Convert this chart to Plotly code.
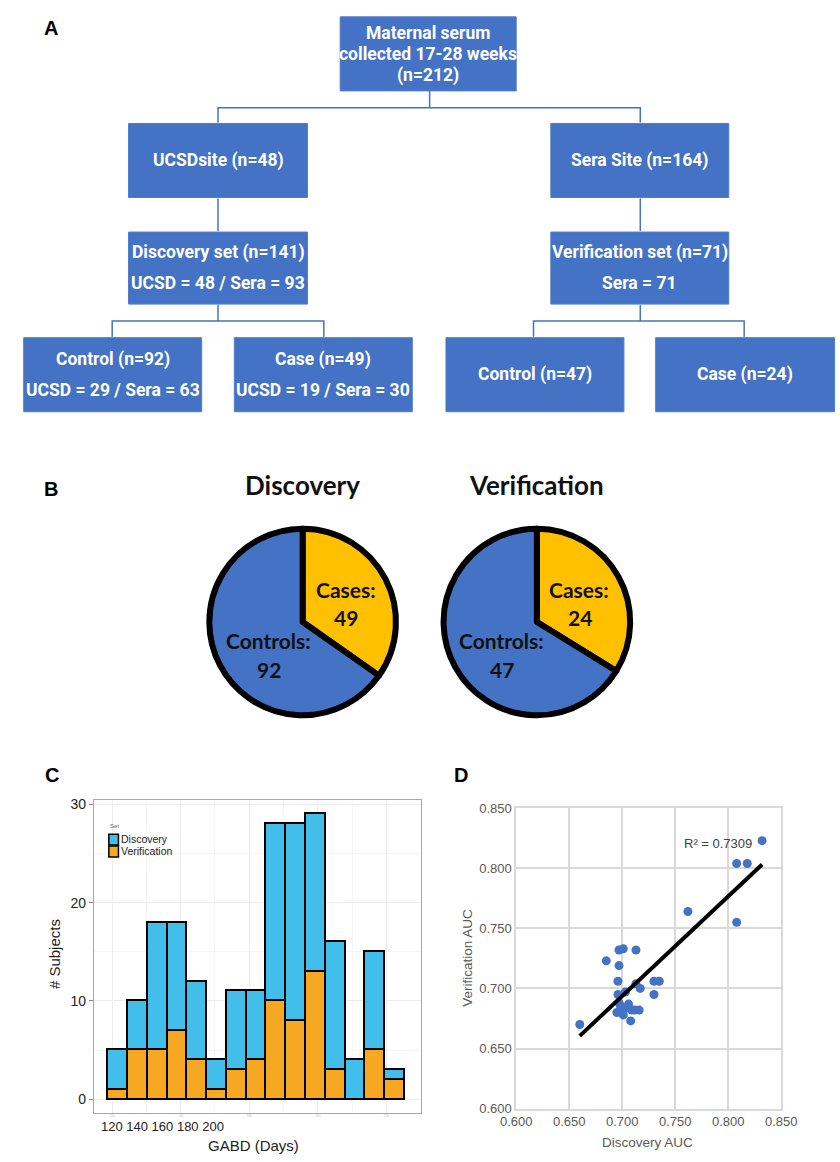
import plotly.graph_objects as go

W, H = 840, 1162

# ---------------- DATA ----------------
# Panel A: flowchart node texts
node_root = ["Maternal serum", "collected 17-28 weeks", "(n=212)"]
node_ucsd = ["UCSDsite (n=48)"]
node_sera = ["Sera Site (n=164)"]
node_disc = ["Discovery set (n=141)", "UCSD = 48 / Sera = 93"]
node_verif = ["Verification set (n=71)", "Sera = 71"]
node_ctrl_d = ["Control (n=92)", "UCSD = 29 / Sera = 63"]
node_case_d = ["Case (n=49)", "UCSD = 19 / Sera = 30"]
node_ctrl_v = ["Control (n=47)"]
node_case_v = ["Case (n=24)"]

# Panel B: pies
pie_labels = ["Cases", "Controls"]
discovery_counts = [49, 92]
verification_counts = [24, 47]

# Panel C: histogram of GABD (days)
gabd_bin_centers = [121.68, 127.46, 133.23, 139.01, 144.78, 150.56, 156.33, 162.11,
                    167.88, 173.66, 179.43, 185.21, 190.98, 196.76, 202.53]
gabd_bin_width = 5.775
hist_discovery = [4, 5, 13, 11, 8, 3, 8, 7, 18, 20, 16, 13, 4, 10, 1]
hist_verification = [1, 5, 5, 7, 4, 1, 3, 4, 10, 8, 13, 3, 0, 5, 2]
gabd_ticks = [120, 140, 160, 180, 200]
subject_ticks = [0, 10, 20, 30]
legend_title = "Set"
legend_names = ["Discovery", "Verification"]

# Panel D: AUC scatter
discovery_auc = [0.832, 0.808, 0.818, 0.762, 0.808, 0.697, 0.701, 0.713, 0.685, 0.697,
                 0.696, 0.696, 0.703, 0.713, 0.717, 0.730, 0.735, 0.730, 0.695, 0.699,
                 0.706, 0.701, 0.709, 0.716, 0.708, 0.660, 0.712, 0.697, 0.6985, 0.7035]
verification_auc = [0.823, 0.804, 0.804, 0.764, 0.755, 0.732, 0.733, 0.732, 0.723, 0.719,
                    0.706, 0.695, 0.697, 0.704, 0.700, 0.706, 0.706, 0.695, 0.680, 0.684,
                    0.687, 0.678, 0.682, 0.682, 0.673, 0.670, 0.682, 0.688, 0.6855, 0.6835]
fit_slope = 0.829
fit_intercept = 0.1134
r_squared = 0.7309
auc_ticks = [0.600, 0.650, 0.700, 0.750, 0.800, 0.850]

# ---------------- STYLE / LAYOUT HELPERS ----------------
BLUE = "#4472C4"
YELLOW = "#FFC000"
CYAN = "#41BEEA"
ORANGE = "#F7A823"
FLOW_FONT = "Roboto, Liberation Sans, sans-serif"
PIE_FONT = "Lato, Calibri, Carlito, sans-serif"
AR = "Liberation Sans, Arial, sans-serif"


def fx(x):
    return x / W


def fy(y):
    return 1 - y / H


fig = go.Figure()
shapes = []
annotations = []

# ---------------- PANEL A: flowchart ----------------
boxes = [
    (node_root, (337, 10, 520, 85), 21.5),
    (node_ucsd, (117, 118, 303, 193), 31),
    (node_sera, (556, 118, 741, 193), 31),
    (node_disc, (117, 228, 303, 301), 31),
    (node_verif, (556, 228, 741, 301), 31),
    (node_ctrl_d, (8, 335, 193, 410), 31),
    (node_case_d, (227, 335, 412, 410), 31),
    (node_ctrl_v, (447, 335, 632, 410), 31),
    (node_case_v, (665, 335, 851, 410), 31),
]
for lines, (x0, y0, x1, y1), spacing in boxes:
    shapes.append(dict(type="rect", xref="paper", yref="paper",
                       x0=fx(x0), x1=fx(x1), y0=fy(y1), y1=fy(y0),
                       fillcolor=BLUE, line=dict(color="#4F7CCB", width=1), layer="below"))
    cx = (x0 + x1) / 2
    cy = (y0 + y1) / 2
    n = len(lines)
    for i, t in enumerate(lines):
        ly = cy + (i - (n - 1) / 2) * spacing
        annotations.append(dict(text=f"<b>{t}</b>", x=fx(cx), y=fy(ly), xref="paper", yref="paper",
                                showarrow=False, xanchor="center", yanchor="middle",
                                font=dict(family=FLOW_FONT, size=17.5, color="white")))

connectors = [
    [(430, 85), (430, 102)],
    [(210, 117), (210, 102), (649, 102), (649, 117)],
    [(210, 194), (210, 227)],
    [(649, 194), (649, 227)],
    [(210, 302), (210, 318)],
    [(100, 334), (100, 318), (320, 318), (320, 334)],
    [(649, 302), (649, 318)],
    [(538, 334), (538, 318), (757, 318), (757, 334)],
]
for pts in connectors:
    path = "M " + " L ".join(f"{fx(x):.5f},{fy(y):.5f}" for x, y in pts)
    shapes.append(dict(type="path", xref="paper", yref="paper", path=path,
                       line=dict(color=BLUE, width=1.5)))

# ---------------- PANEL B: pies ----------------
pie_specs = [
    ("Discovery", discovery_counts, 298, [(45, -33), (45, -5), (-36, 19), (-35, 48)]),
    ("Verification", verification_counts, 541.5, [(44, -33), (45, -5), (-37, 19), (-36, 48)]),
]
PIE_CY, PIE_R = 623, 97
for title, vals, cx, offs in pie_specs:
    fig.add_trace(go.Pie(
        labels=pie_labels, values=vals, sort=False, direction="clockwise", rotation=0,
        marker=dict(colors=[YELLOW, BLUE], line=dict(color="black", width=6)),
        textinfo="none", hoverinfo="label+value", showlegend=False,
        domain=dict(x=[fx(cx - PIE_R), fx(cx + PIE_R)], y=[fy(PIE_CY + PIE_R), fy(PIE_CY - PIE_R)]),
    ))
    annotations.append(dict(text=f"<b>{title}</b>", x=fx(cx), y=fy(484), xref="paper", yref="paper",
                            showarrow=False, xanchor="center", yanchor="middle",
                            font=dict(family=PIE_FONT, size=26, color="#111")))
    texts = [f"{pie_labels[0]}:", str(vals[0]), f"{pie_labels[1]}:", str(vals[1])]
    for (dx, dy), t in zip(offs, texts):
        annotations.append(dict(text=f"<b>{t}</b>", x=fx(cx + dx), y=fy(PIE_CY + dy),
                                xref="paper", yref="paper", showarrow=False,
                                xanchor="center", yanchor="middle",
                                font=dict(family=PIE_FONT, size=21, color="#111")))

# ---------------- PANEL C: stacked histogram ----------------
fig.add_trace(go.Bar(x=gabd_bin_centers, y=hist_verification, width=gabd_bin_width,
                     name=legend_names[1], marker=dict(color=ORANGE, line=dict(color="black", width=1.5)),
                     showlegend=False, xaxis="x", yaxis="y"))
fig.add_trace(go.Bar(x=gabd_bin_centers, y=hist_discovery, width=gabd_bin_width,
                     name=legend_names[0], marker=dict(color=CYAN, line=dict(color="black", width=1.5)),
                     showlegend=False, xaxis="x", yaxis="y"))

# inset legend (ggplot style)
annotations.append(dict(text=legend_title, x=fx(96), y=fy(830), xanchor="left",
                        font=dict(family=AR, size=6, color="#666")))
for i, (name, col) in enumerate(zip(legend_names, [CYAN, ORANGE])):
    y0 = 838 + i * 12
    shapes.append(dict(type="rect", xref="paper", yref="paper",
                       x0=fx(96.5), x1=fx(106.5), y0=fy(y0 + 11), y1=fy(y0),
                       fillcolor=col, line=dict(color="black", width=1.5)))
    annotations.append(dict(text=name, x=fx(107.5), y=fy(y0 + 5), xanchor="left",
                            font=dict(family=AR, size=10.5, color="#222")))

# ---------------- PANEL D: scatter ----------------
fig.add_trace(go.Scatter(x=discovery_auc, y=verification_auc, mode="markers",
                         marker=dict(color=BLUE, size=9), showlegend=False,
                         xaxis="x2", yaxis="y2"))
fit_x = [min(discovery_auc), max(discovery_auc)]
fit_y = [fit_slope * v + fit_intercept for v in fit_x]
fig.add_trace(go.Scatter(x=fit_x, y=fit_y, mode="lines", line=dict(color="black", width=4),
                         showlegend=False, xaxis="x2", yaxis="y2"))

# texts: panel letters, axis titles
for letter, x, y in [("A", 36, 21), ("B", 36, 488), ("C", 37, 778), ("D", 463, 778)]:
    annotations.append(dict(text=f"<b>{letter}</b>", x=fx(x), y=fy(y), xref="paper", yref="paper",
                            showarrow=False, xanchor="center", yanchor="middle",
                            font=dict(family=AR, size=20, color="black")))

annotations += [
    dict(text="# Subjects", x=fx(40), y=fy(959), textangle=-90,
         font=dict(family=AR, size=15, color="#222")),
    dict(text="GABD (Days)", x=fx(247), y=fy(1153), font=dict(family=AR, size=15, color="#222")),
    dict(text=" ".join(str(t) for t in gabd_ticks), x=fx(152), y=fy(1134),
         font=dict(family=AR, size=13, color="#222")),
    dict(text="Verification AUC", x=fx(469), y=fy(963), textangle=-90,
         font=dict(family=AR, size=13.5, color="#595959")),
    dict(text="Discovery AUC", x=fx(657), y=fy(1150), font=dict(family=AR, size=13.5, color="#595959")),
    dict(text=f"R² = {r_squared}", x=0.7904, y=0.821, xref="x2", yref="y2",
         font=dict(family=AR, size=13, color="#404040")),
]
for a in annotations:
    a.setdefault("xref", "paper")
    a.setdefault("yref", "paper")
    a.setdefault("showarrow", False)
    a.setdefault("xanchor", "center")
    a.setdefault("yanchor", "middle")

fig.update_layout(
    width=W, height=H, autosize=False,
    margin=dict(l=0, r=0, t=0, b=0, pad=0),
    paper_bgcolor="white", plot_bgcolor="white",
    barmode="stack", bargap=0, showlegend=False,
    shapes=shapes, annotations=annotations,
    font=dict(family=AR),
    xaxis=dict(domain=[fx(81), fx(421)], range=[114.67, 210.1], anchor="y",
               tickvals=gabd_ticks, ticktext=[str(t) for t in gabd_ticks],
               tickfont=dict(size=3, color="#BBBBBB"), ticks="",
               showgrid=True, gridcolor="#EDEDED", gridwidth=1,
               minor=dict(dtick=10, tick0=110, showgrid=True, gridcolor="#F5F5F5"),
               showline=True, mirror=True, linecolor="#A8A8A8", linewidth=1,
               zeroline=False, fixedrange=True),
    yaxis=dict(domain=[fy(1120), fy(803)], range=[-1.35, 30.47], anchor="x",
               tickvals=subject_ticks, tickfont=dict(family=AR, size=14, color="#222"),
               ticks="outside", ticklen=4, tickcolor="#888",
               showgrid=True, gridcolor="#EDEDED", gridwidth=1,
               minor=dict(dtick=5, tick0=5, showgrid=True, gridcolor="#F5F5F5"),
               showline=True, mirror=True, linecolor="#A8A8A8", linewidth=1,
               zeroline=False, fixedrange=True),
    xaxis2=dict(domain=[fx(520), fx(795.5)], range=[0.6, 0.85], anchor="y2",
                tickvals=auc_ticks, tickformat=".3f",
                tickfont=dict(family=AR, size=13, color="#595959"),
                showgrid=True, gridcolor="#D9D9D9", gridwidth=1.5,
                showline=True, mirror=True, linecolor="#D9D9D9", linewidth=1.5,
                zeroline=False, ticks="", fixedrange=True),
    yaxis2=dict(domain=[fy(1116), fy(811.7)], range=[0.6, 0.85], anchor="x2",
                tickvals=auc_ticks, tickformat=".3f",
                tickfont=dict(family=AR, size=13, color="#595959"),
                showgrid=True, gridcolor="#D9D9D9", gridwidth=1.5,
                showline=True, mirror=True, linecolor="#D9D9D9", linewidth=1.5,
                zeroline=False, ticks="", fixedrange=True),
)

fig.write_html("out.html", config={"displayModeBar": False},
               post_script="document.body.style.margin='0px';")
